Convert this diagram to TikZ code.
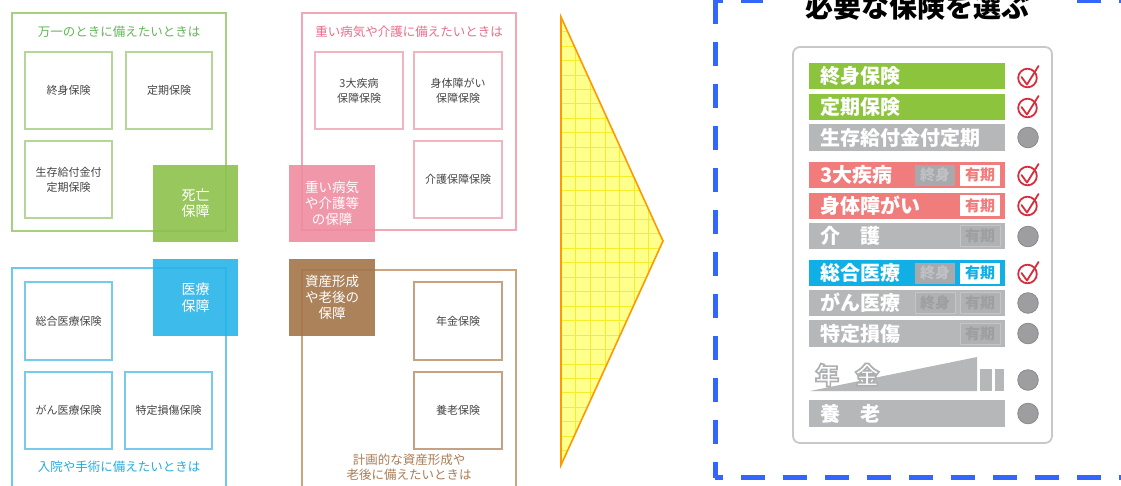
\documentclass[tikz,border=0pt]{standalone}
\usepackage{fontspec}
\setmainfont{Noto Sans CJK JP}
\definecolor{gtitle}{RGB}{98,182,88}
\definecolor{gframe}{RGB}{166,208,128}
\definecolor{ginner}{RGB}{180,215,152}
\definecolor{gsq}{RGB}{141,194,76}
\definecolor{ptitle}{RGB}{232,110,138}
\definecolor{pframe}{RGB}{243,166,182}
\definecolor{pinner}{RGB}{242,180,192}
\definecolor{psq}{RGB}{239,140,160}
\definecolor{btitle}{RGB}{40,170,225}
\definecolor{bframe}{RGB}{110,200,236}
\definecolor{binner}{RGB}{120,202,236}
\definecolor{bsq}{RGB}{40,180,232}
\definecolor{rtitle}{RGB}{170,125,85}
\definecolor{rframe}{RGB}{205,165,125}
\definecolor{rinner}{RGB}{198,162,132}
\definecolor{rsq}{RGB}{164,117,74}
\definecolor{txtgray}{RGB}{70,70,70}
\definecolor{arrfill}{RGB}{255,255,140}
\definecolor{arrgrid}{RGB}{246,236,40}
\definecolor{arrline}{RGB}{255,153,0}
\definecolor{dashblue}{RGB}{51,102,255}
\definecolor{panelline}{RGB}{200,200,200}
\definecolor{greenbar}{RGB}{140,196,62}
\definecolor{pinkbar}{RGB}{241,124,124}
\definecolor{bluebar}{RGB}{16,176,230}
\definecolor{graybar}{RGB}{182,183,185}
\definecolor{tagdark}{RGB}{168,169,172}
\definecolor{tagdarktxt}{RGB}{192,193,196}
\definecolor{taggray}{RGB}{176,177,179}
\definecolor{taggrayline}{RGB}{196,197,199}
\definecolor{taggraytxt}{RGB}{158,159,161}
\definecolor{chkred}{RGB}{215,45,60}
\definecolor{dotgray}{RGB}{158,158,160}
\definecolor{dotedge}{RGB}{138,138,140}
\newcommand{\outlinedtext}[1]{\special{pdf:literal direct 1.7 w 0.68 0.685 0.69 RG 2 Tr}#1\special{pdf:literal direct 0 Tr}}
\newcommand{\chkmark}[1]{%
  \draw[chkred,line width=1.8pt] (1027.5,#1) circle (9.3);
  \draw[chkred,line width=1.8pt,line join=round,line cap=round] (1021.5,#1-1) -- (1027,#1+6.5) -- (1038.5,#1-12);}
\newcommand{\graydot}[1]{%
  \filldraw[fill=dotgray,draw=dotedge,line width=0.8pt] (1028,#1) circle (10.3);}
\begin{document}
\begin{tikzpicture}[x=1pt,y=-1pt,
  frame/.style={draw=#1,line width=2pt},
  ibox/.style={draw=#1,line width=1.1pt,fill=white,minimum width=87pt,minimum height=77pt,inner sep=0pt,
     align=center,text=txtgray,font=\fontsize{11}{15}\selectfont},
  qsq/.style={fill=#1,fill opacity=0.9,text opacity=1,text=white,minimum width=85pt,minimum height=77pt,
     inner sep=0pt,align=center,font=\fontsize{14}{16.5}\selectfont},
  qtitle/.style={text=#1,align=center,font=\fontsize{12.5}{15}\selectfont,inner sep=0pt},
  rowtext/.style={text=white,anchor=west,inner sep=0pt,font=\fontsize{20}{20}\selectfont\bfseries},
  tagbox/.style={minimum width=40pt,minimum height=21pt,inner sep=0pt,font=\fontsize{15}{15}\selectfont\bfseries},
  tagw/.style={tagbox,fill=white,text=#1},
  tagd/.style={tagbox,fill=tagdark,text=tagdarktxt},
  tagg/.style={tagbox,fill=taggray,draw=taggrayline,line width=0.8pt,text=taggraytxt},
]
\useasboundingbox (0,0) rectangle (1121,485);
\clip (0,0) rectangle (1121,485);
\fill[white] (0,0) rectangle (1121,485);

% ---------- green quadrant ----------
\draw[frame=gframe] (12,13) rectangle (226,231);
\node[qtitle=gtitle] (gt) at (119,32) {万一のときに備えたいときは};
\node[ibox=ginner] (g1) at (68.5,90.5) {終身保険};
\node[ibox=ginner,minimum width=86pt] (g2) at (169,90.5) {定期保険};
\node[ibox=ginner] (g3) at (68.5,179.5) {生存給付金付\\定期保険};
\node[qsq=gsq] (gs) at (195.5,203) {死亡\\保障};

% ---------- pink quadrant ----------
\draw[frame=pframe] (302,13) rectangle (516,230);
\node[qtitle=ptitle] (pt) at (409,32) {重い病気や介護に備えたいときは};
\node[ibox=pinner,minimum width=88pt] (p1) at (359,90.5) {3大疾病\\保障保険};
\node[ibox=pinner,minimum width=88pt] (p2) at (458,90.5) {身体障がい\\保障保険};
\node[ibox=pinner,minimum width=88pt] (p3) at (458,179.5) {介護保障保険};
\node[qsq=psq,minimum width=86pt,font=\fontsize{13.5}{16}\selectfont] (ps) at (332,203) {重い病気\\や介護等\\の保障};

% ---------- blue quadrant ----------
\draw[frame=bframe] (12,268) rectangle (226,500);
\node[qtitle=btitle] (bt) at (119,467) {入院や手術に備えたいときは};
\node[ibox=binner,minimum height=78pt] (b1) at (68.5,321) {総合医療保険};
\node[ibox=binner] (b2) at (68.5,410.5) {がん医療保険};
\node[ibox=binner] (b3) at (168.5,410.5) {特定損傷保険};
\node[qsq=bsq] (bs) at (195.5,297.5) {医療\\保障};

% ---------- brown quadrant ----------
\draw[frame=rframe] (302,270) rectangle (516,500);
\node[qtitle=rtitle] (rt) at (409,467) {計画的な資産形成や\\老後に備えたいときは};
\node[ibox=rinner,minimum width=88pt,minimum height=78pt] (r1) at (458,321) {年金保険};
\node[ibox=rinner,minimum width=88pt] (r2) at (458,410.5) {養老保険};
\node[qsq=rsq,minimum width=86pt,font=\fontsize{13.5}{16}\selectfont] (rs) at (332,297.5) {資産形成\\や老後の\\保障};

% ---------- arrow ----------
\begin{scope}
  \clip (561,17) -- (663,241) -- (561,465) -- cycle;
  \fill[arrfill] (561,17) rectangle (663,465);
  \foreach \i in {1,...,7} \draw[arrgrid,line width=0.6pt] (561+\i*14.6,17) -- (561+\i*14.6,465);
  \foreach \j in {1,...,31} \draw[arrgrid,line width=0.6pt] (561,17+\j*14.45) -- (663,17+\j*14.45);
\end{scope}
\draw[arrline,line width=1.6pt,line join=miter] (561,17) -- (663,241) -- (561,465) -- cycle;

% ---------- dashed frame ----------
\draw[dashblue,line width=5pt,dash pattern=on 24pt off 18pt] (715,0) -- (715,478);
\draw[dashblue,line width=5pt,dash pattern=on 24pt off 18pt,dash phase=16pt] (715,0) -- (1140,0);
\draw[dashblue,line width=5pt,dash pattern=on 24pt off 18pt,dash phase=16pt] (715,477) -- (1140,477);
\node[fill=white,minimum width=310pt,inner ysep=1pt,font=\fontsize{28}{28}\selectfont\bfseries] (title) at (917.5,7) {必要な保険を選ぶ};

% ---------- panel ----------
\draw[panelline,line width=1.8pt,fill=white,rounded corners=7pt] (793,47) rectangle (1052,443);

% rows
\fill[greenbar] (809,63) rectangle (1005,89);
\node[rowtext] (l1) at (820,76) {終身保険};
\fill[greenbar] (809,94) rectangle (1005,120);
\node[rowtext] (l2) at (820,107) {定期保険};
\fill[graybar] (809,124) rectangle (1005,151);
\node[rowtext] (l3) at (820,137.5) {生存給付金付定期};

\fill[pinkbar] (809,162) rectangle (1005,188);
\node[rowtext] (l4) at (820,175) {3大疾病};
\node[tagd] (t4a) at (935,175) {終身};
\node[tagw=pinkbar] (t4b) at (980,175) {有期};
\fill[pinkbar] (809,192.5) rectangle (1005,218.5);
\node[rowtext] (l5) at (820,205.5) {身体障がい};
\node[tagw=pinkbar] (t5b) at (980,205.5) {有期};
\fill[graybar] (809,223) rectangle (1005,249);
\node[rowtext] (l6) at (820,236) {介　護};
\node[tagg] (t6b) at (980,236) {有期};

\fill[bluebar] (809,260) rectangle (1005,286);
\node[rowtext] (l7) at (820,273) {総合医療};
\node[tagd] (t7a) at (935,273) {終身};
\node[tagw=bluebar] (t7b) at (980,273) {有期};
\fill[graybar] (809,290) rectangle (1005,316);
\node[rowtext] (l8) at (820,303) {がん医療};
\node[tagg] (t8a) at (935,303) {終身};
\node[tagg] (t8b) at (980,303) {有期};
\fill[graybar] (809,320) rectangle (1005,347);
\node[rowtext] (l9) at (820,333.5) {特定損傷};
\node[tagg] (t9b) at (980,333.5) {有期};

% pension wedge
\fill[graybar] (810,391) -- (977,357) -- (977,391) -- cycle;
\fill[graybar] (980,368.5) rectangle (992,391);
\fill[graybar] (995,368.5) rectangle (1004,391);
\node[rowtext,font=\fontsize{24}{24}\selectfont\bfseries] (l10) at (815,375) {\outlinedtext{年\hspace{16pt}金}};

\fill[graybar] (809,400) rectangle (1005,427);
\node[rowtext] (l11) at (820,413.5) {養　老};

% icons
\chkmark{78}
\chkmark{108}
\graydot{137.5}
\chkmark{176}
\chkmark{206}
\graydot{236.5}
\chkmark{274}
\graydot{303}
\graydot{333.5}
\graydot{380}
\graydot{413.5}
\end{tikzpicture}
\end{document}
